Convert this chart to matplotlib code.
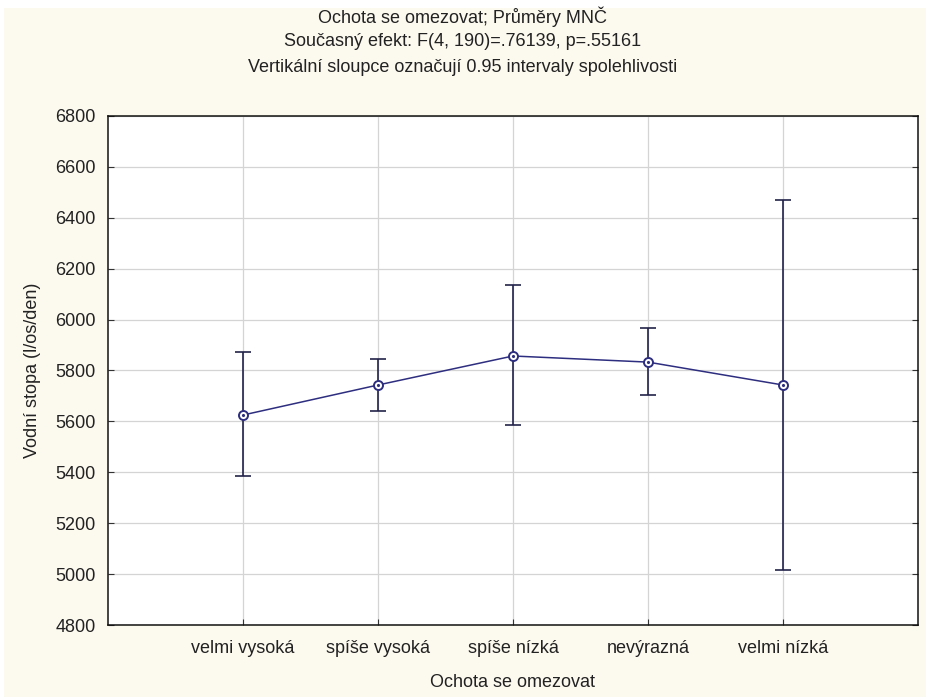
import matplotlib.pyplot as plt
from matplotlib.patches import Rectangle

# Data
categories = ['velmi vysoká', 'spíše vysoká', 'spíše nízká', 'nevýrazná', 'velmi nízká']
means = [5625, 5743, 5857, 5833, 5743]
upper = [5873, 5845, 6136, 5967, 6470]
lower = [5385, 5641, 5586, 5704, 5016]
y_ticks = [4800, 5000, 5200, 5400, 5600, 5800, 6000, 6200, 6400, 6600, 6800]

plt.rcParams['font.family'] = ['Liberation Sans', 'DejaVu Sans']

bg = '#fcf9ef'
line_col = '#2e2e80'
err_col = '#22224a'
txt = '#222222'
fs = 13

fig = plt.figure(figsize=(9.26, 6.97), dpi=100, facecolor='white')
fig.patches.append(Rectangle((4 / 926, 0), 1, 1 - 8 / 697, transform=fig.transFigure,
                             facecolor=bg, edgecolor='none', zorder=-10))
ax = fig.add_axes([108 / 926, 1 - 625 / 697, 810 / 926, 509 / 697])
ax.set_facecolor('white')

x = list(range(1, len(categories) + 1))
yerr = [[m - lo for m, lo in zip(means, lower)], [up - m for m, up in zip(means, upper)]]

ax.errorbar(x, means, yerr=yerr, fmt='none', ecolor=err_col, elinewidth=1.2,
            capsize=6, capthick=1.2, zorder=3)
ax.plot(x, means, color=line_col, linewidth=1.1, marker='o', markersize=6.5,
        markerfacecolor='white', markeredgecolor=line_col, markeredgewidth=1.4, zorder=4)
ax.plot(x, means, linestyle='none', marker='.', markersize=2.5, color=line_col, zorder=5)

ax.set_xlim(0, 6)
ax.set_ylim(4800, 6800)
ax.set_xticks(x)
ax.set_xticklabels(categories, fontsize=fs, color=txt)
ax.set_yticks(y_ticks)
ax.set_yticklabels([str(v) for v in y_ticks], fontsize=fs, color=txt)
ax.tick_params(axis='both', direction='in', length=4, width=0.8, color='#333333',
               right=True, pad=9)
ax.tick_params(axis='x', pad=11)
ax.grid(True, color='#d4d4d4', linewidth=0.9)
ax.set_axisbelow(True)
for s in ax.spines.values():
    s.set_color('#111111')
    s.set_linewidth(1.1)

ax.set_xlabel('Ochota se omezovat', fontsize=fs, color=txt, labelpad=12)
ax.set_ylabel('Vodní stopa (l/os/den)', fontsize=fs, color=txt, labelpad=10)

fig.text(0.5, 1 - 17 / 697, 'Ochota se omezovat; Průměry MNČ', ha='center', va='center',
         fontsize=fs, color=txt)
fig.text(0.5, 1 - 42 / 697, 'Současný efekt: F(4, 190)=.76139, p=.55161', ha='center',
         va='center', fontsize=fs, color=txt)
fig.text(0.5, 1 - 67 / 697, 'Vertikální sloupce označují 0.95 intervaly spolehlivosti',
         ha='center', va='center', fontsize=fs, color=txt)

fig.savefig('out.png', dpi=100, facecolor=fig.get_facecolor())
